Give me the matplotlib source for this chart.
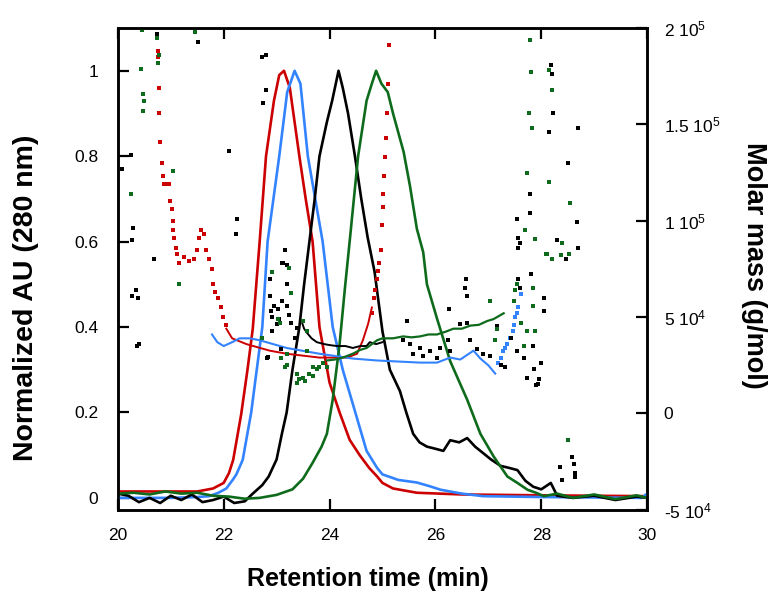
import matplotlib
matplotlib.use("Agg")
import matplotlib.pyplot as plt

plt.rcParams.update({
    "font.family": ["Liberation Sans", "DejaVu Sans"],
    "mathtext.fontset": "custom",
    "mathtext.rm": "Liberation Sans",
    "mathtext.default": "regular",
})

RED = "#cc0000"
BLUE = "#3383ff"
BLACK = "#000000"
GREEN = "#0f6b1c"

# ── UV traces (normalized AU) ──
red_x = [20, 20.5, 21, 21.5, 21.8, 22.0, 22.1, 22.18, 22.33, 22.45, 22.55, 22.68, 22.8,
         22.95, 23.05, 23.14, 23.25, 23.43, 23.55, 23.68, 23.81, 24.0, 24.19, 24.38,
         24.57, 24.75, 24.9, 25.0, 25.2, 25.65, 26.5, 28, 30]
red_y = [0.015, 0.015, 0.015, 0.015, 0.022, 0.035, 0.058, 0.089, 0.195, 0.30, 0.396, 0.60,
         0.80, 0.93, 0.99, 1.0, 0.96, 0.80, 0.70, 0.60, 0.40, 0.27, 0.20, 0.136,
         0.10, 0.07, 0.05, 0.035, 0.022, 0.012, 0.008, 0.006, 0.004]

blue_x = [20, 20.5, 21, 21.5, 21.73, 21.9, 22.05, 22.17, 22.24, 22.36, 22.52, 22.73, 22.83,
          23.05, 23.2, 23.34, 23.45, 23.59, 23.73, 23.87, 24.06, 24.25, 24.44, 24.7,
          24.9, 25.0, 25.3, 25.65, 25.9, 26.1, 26.5, 26.9, 28, 29.9, 30]
blue_y = [0.0, 0.0, 0.0, 0.002, 0.004, 0.012, 0.022, 0.042, 0.055, 0.089, 0.20, 0.40, 0.60,
          0.80, 0.95, 1.0, 0.97, 0.80, 0.70, 0.60, 0.40, 0.30, 0.22, 0.11,
          0.07, 0.055, 0.042, 0.036, 0.027, 0.019, 0.01, 0.004, 0.002, 0.0, 0.01]

black_x = [20, 20.2, 20.4, 20.6, 20.8, 21.0, 21.2, 21.4, 21.6, 21.8, 22.0, 22.2, 22.4, 22.55,
           22.73, 22.85, 23.0, 23.1, 23.19, 23.3, 23.43, 23.52, 23.62, 23.72, 23.81, 23.95,
           24.05, 24.17, 24.25, 24.35, 24.48, 24.6, 24.72, 24.85, 25.0, 25.14, 25.33, 25.45,
           25.58, 25.7, 25.84, 26.0, 26.15, 26.28, 26.45, 26.6, 26.75, 26.9, 27.05, 27.23,
           27.4, 27.55, 27.7, 27.85, 28.0, 28.18, 28.3, 28.6, 29.0, 29.4, 29.8, 30]
black_y = [0.01, 0.005, -0.01, 0.0, -0.012, 0.005, -0.005, 0.008, -0.01, -0.005, 0.003,
           -0.012, -0.008, 0.01, 0.03, 0.05, 0.09, 0.15, 0.2, 0.3, 0.4, 0.5, 0.6, 0.7, 0.8,
           0.88, 0.93, 1.0, 0.96, 0.9, 0.8, 0.7, 0.61, 0.53, 0.39, 0.30, 0.25, 0.2,
           0.15, 0.13, 0.12, 0.115, 0.11, 0.135, 0.13, 0.14, 0.12, 0.105, 0.09, 0.075,
           0.07, 0.065, 0.04, 0.026, 0.02, 0.035, 0.005, 0.0, 0.005, -0.005, 0.003, 0.0]

green_x = [20, 20.3, 20.6, 20.9, 21.2, 21.5, 21.8, 22.1, 22.4, 22.68, 23.0, 23.3, 23.5,
           23.68, 23.85, 23.95, 24.06, 24.19, 24.29, 24.38, 24.54, 24.7, 24.8, 24.88,
           24.98, 25.1, 25.2, 25.4, 25.52, 25.65, 25.77, 25.84, 26.03, 26.28, 26.6, 26.85,
           27.1, 27.36, 27.55, 27.74, 27.9, 28.05, 28.3, 28.6, 29.0, 29.4, 29.8, 30]
green_y = [0.01, 0.012, 0.008, 0.015, 0.01, 0.012, 0.005, 0.003, -0.002, 0.0, 0.007, 0.02,
           0.045, 0.082, 0.12, 0.15, 0.23, 0.36, 0.49, 0.6, 0.8, 0.93, 0.97, 1.0,
           0.97, 0.95, 0.90, 0.81, 0.73, 0.63, 0.575, 0.50, 0.42, 0.32, 0.23, 0.15,
           0.097, 0.05, 0.035, 0.019, 0.012, 0.004, 0.01, 0.0, 0.008, -0.003, 0.006, 0.0]

# ── molar mass (g/mol) ──
red_mm_dots_x = [20.76, 20.76, 20.78, 20.78, 20.80, 20.83, 20.85, 20.87, 20.91, 20.94, 20.97,
                 20.99, 21.02, 21.04, 21.04, 21.06, 21.10, 21.12, 21.16, 21.25, 21.35, 21.44,
                 21.50, 21.54, 21.57, 21.63, 21.67, 21.73, 21.78, 21.80, 21.84, 21.90, 21.95,
                 21.99, 22.05, 24.80, 24.84, 24.86, 24.90, 24.92, 24.93, 24.97, 24.99, 25.01,
                 25.01, 25.03, 25.05, 25.07, 25.09, 25.10, 25.12]
red_mm_dots_y = [185e3, 188e3, 169e3, 156e3, 141e3, 130e3, 123e3, 119e3, 119e3, 119e3, 119e3,
                 110e3, 106e3, 100e3, 95e3, 91e3, 86e3, 83e3, 78e3, 81e3, 79e3, 80e3,
                 85e3, 91e3, 95e3, 93e3, 85e3, 80e3, 75e3, 67e3, 63e3, 60e3, 55e3,
                 50e3, 46e3, 52e3, 60e3, 64e3, 70e3, 74e3, 78e3, 85e3, 98e3, 107e3,
                 114e3, 123e3, 133e3, 143e3, 156e3, 171e3, 191e3]
red_mm_x = [22.05, 22.16, 22.43, 22.87, 23.19, 23.81, 24.33, 24.52, 24.63, 24.73, 24.80]
red_mm_y = [44e3, 39e3, 36e3, 32.6e3, 31e3, 29e3, 29e3, 31e3, 38e3, 46.6e3, 55e3]

blue_mm_x = [21.78, 21.88, 22.0, 22.16, 22.3, 22.49, 22.68, 23.19, 23.81, 24.44, 24.9, 25.71,
             26.03, 26.28, 26.47, 26.72, 26.85, 27.0, 27.13]
blue_mm_y = [41e3, 37e3, 35e3, 37e3, 39e3, 39e3, 38e3, 34e3, 31e3, 28.5e3, 27.5e3, 26.4e3,
             26.4e3, 29e3, 28e3, 32.6e3, 28.5e3, 25e3, 20.7e3]
blue_mm_dots_x = [27.19, 27.23, 27.27, 27.32, 27.36, 27.41, 27.46, 27.49, 27.51, 27.54, 27.57,
                  27.61]
blue_mm_dots_y = [26e3, 29e3, 32.6e3, 34e3, 36e3, 39e3, 43e3, 46e3, 50e3, 52e3, 55e3, 62e3]

black_mm_x = [23.47, 23.52, 23.57, 23.66, 23.76, 23.9, 24.0, 24.14, 24.3, 24.44, 24.58,
              24.7, 24.76, 24.88, 25.0]
black_mm_y = [48e3, 44e3, 42e3, 39e3, 37e3, 36e3, 35.5e3, 35e3, 35e3, 34e3, 35e3,
              35e3, 37e3, 36e3, 37e3]
black_mm_dots_x = [20.74, 21.52, 20.25, 20.08, 22.1, 20.28, 20.27, 20.68, 20.34, 20.27, 20.38,
                   20.36, 20.40, 22.73, 22.8, 22.8, 22.75, 22.26, 22.24, 23.15, 23.11, 23.19,
                   22.87, 23.19, 22.87, 22.96, 23.02, 23.11, 23.2, 22.9, 22.92, 23.04, 23.24,
                   23.28, 22.92, 23.0, 23.38, 23.09, 22.83, 23.34, 22.81, 23.13, 25.46, 25.39,
                   25.52, 25.58, 25.71, 25.77, 25.9, 26.03, 26.09, 26.24, 26.28, 26.47, 26.6,
                   26.57, 26.55, 26.6, 26.26, 26.66, 26.79, 26.9, 27.04, 27.17, 27.23, 27.32,
                   27.42, 27.57, 27.8, 27.59, 27.55, 27.67, 27.74, 27.93, 27.95, 28.0, 28.05,
                   28.05, 27.84, 27.86, 27.57, 28.18, 28.2, 28.22, 28.14, 28.69, 28.5, 27.78,
                   27.78, 27.55, 28.67, 27.57, 27.59, 28.29, 28.69, 28.46, 27.91, 28.58, 28.62,
                   28.35, 28.63, 28.63, 28.39]
black_mm_dots_y = [197e3, 193e3, 134e3, 127e3, 136e3, 96e3, 90e3, 80e3, 64e3, 61e3, 60e3,
                   35e3, 36e3, 185e3, 186e3, 168e3, 161e3, 101e3, 93e3, 85e3, 78e3, 77e3,
                   70e3, 67e3, 61e3, 56e3, 54e3, 58.5e3, 56e3, 53e3, 50e3, 49e3, 51e3,
                   47e3, 43e3, 46.6e3, 44.5e3, 33.7e3, 29.5e3, 39e3, 29e3, 78e3, 48e3, 38e3,
                   36e3, 31e3, 34e3, 30e3, 32.6e3, 29e3, 34e3, 38e3, 32.6e3, 46.6e3, 47e3,
                   70e3, 65e3, 61e3, 54e3, 38e3, 33.7e3, 31e3, 30e3, 45.6e3, 25e3, 24e3,
                   39e3, 70e3, 72.5e3, 65e3, 32.6e3, 29e3, 18.6e3, 15.5e3, 18e3, 26e3, 53e3,
                   60e3, 35e3, 23e3, 86e3, 181e3, 176e3, 156e3, 146e3, 148e3, 130e3, 114e3,
                   104e3, 101e3, 99.5e3, 91e3, 88.6e3, 90e3, 86e3, 80e3, 15e3, -22.8e3, -26e3,
                   -28e3, -31e3, -33e3, -34.7e3]

green_mm_x = [23.95, 24.1, 24.25, 24.44, 24.58, 24.7, 24.9, 25.0, 25.2, 25.39, 25.55, 25.71,
              25.87, 26.03, 26.2, 26.34, 26.5, 26.66, 26.82, 26.98, 27.1, 27.29]
green_mm_y = [27.5e3, 28e3, 29e3, 31e3, 33e3, 34e3, 38e3, 39e3, 39e3, 40e3, 39.5e3, 40e3,
              41e3, 41e3, 42.5e3, 44e3, 44e3, 45.6e3, 46e3, 48e3, 49e3, 52e3]
green_mm_dots_x = [20.46, 20.74, 21.46, 20.78, 20.76, 20.44, 20.48, 20.49, 20.48, 21.05, 20.25,
                   21.16, 22.92, 23.24, 23.28, 23.02, 23.06, 22.73, 23.49, 23.57, 23.09, 23.15,
                   23.2, 23.38, 23.43, 23.49, 23.62, 23.68, 23.76, 23.81, 23.87, 23.57, 23.68,
                   23.38, 23.53, 23.19, 23.95, 27.04, 27.51, 27.48, 27.55, 27.84, 27.84, 27.61,
                   27.67, 27.89, 27.74, 28.09, 27.17, 27.13, 27.78, 27.8, 28.14, 28.2, 27.76,
                   27.82, 27.74, 28.14, 28.54, 27.7, 27.89, 28.39, 28.1, 28.37, 28.52, 28.2,
                   28.5]
green_mm_dots_y = [199e3, 195e3, 198e3, 186e3, 182e3, 179e3, 166e3, 162e3, 157e3, 126e3, 114e3,
                   67e3, 73.6e3, 75.6e3, 62.7e3, 49e3, 47e3, 39e3, 48e3, 43e3, 29e3, 24e3,
                   25e3, 20.7e3, 18e3, 18.6e3, 20.7e3, 19.7e3, 23e3, 24e3, 26e3, 32.6e3, 24e3,
                   16e3, 17e3, 31e3, 24e3, 58.5e3, 64e3, 58.5e3, 67e3, 65e3, 56e3, 47e3,
                   35e3, 43e3, 43e3, 83e3, 44e3, 38e3, 194e3, 177e3, 178e3, 168e3, 156e3,
                   148e3, 125e3, 120e3, 109e3, 95e3, 90.6e3, 88.6e3, 83e3, 82e3, 83e3, 80e3,
                   -14e3]

x_ticks = [20, 22, 24, 26, 28, 30]
left_ticks = [0, 0.2, 0.4, 0.6, 0.8, 1]
left_labels = ["0", "0.2", "0.4", "0.6", "0.8", "1"]
right_ticks = [-5e4, 0, 5e4, 1e5, 1.5e5, 2e5]
right_labels = ["-5 10$^4$", "0", "5 10$^4$", "1 10$^5$", "1.5 10$^5$", "2 10$^5$"]

fig = plt.figure(figsize=(7.75, 5.97), dpi=100)
ax = fig.add_axes([0.152, 0.146, 0.683, 0.807])
ax2 = ax.twinx()

# UV traces
lw = 1.9
ax.plot(red_x, red_y, color=RED, lw=lw, zorder=3)
ax.plot(blue_x, blue_y, color=BLUE, lw=lw, zorder=3)
ax.plot(black_x, black_y, color=BLACK, lw=lw, zorder=3)
ax.plot(green_x, green_y, color=GREEN, lw=lw, zorder=3)

# molar mass
ms = 2.4
ax2.plot(red_mm_x, red_mm_y, color=RED, lw=1.4)
ax2.plot(red_mm_dots_x, red_mm_dots_y, "s", color=RED, ms=ms, mew=0)
ax2.plot(blue_mm_x, blue_mm_y, color=BLUE, lw=1.5)
ax2.plot(blue_mm_dots_x, blue_mm_dots_y, "s", color=BLUE, ms=ms, mew=0)
ax2.plot(black_mm_x, black_mm_y, color=BLACK, lw=1.4)
ax2.plot(black_mm_dots_x, black_mm_dots_y, "s", color=BLACK, ms=ms, mew=0)
ax2.plot(green_mm_x, green_mm_y, color=GREEN, lw=1.6)
ax2.plot(green_mm_dots_x, green_mm_dots_y, "s", color=GREEN, ms=ms, mew=0)

ax.set_xlim(20, 30)
ax.set_ylim(-0.028, 1.10)
ax2.set_ylim(-5e4, 2e5)

ax.set_xticks(x_ticks)
ax.set_xticklabels([str(t) for t in x_ticks])
ax.set_yticks(left_ticks)
ax.set_yticklabels(left_labels)
ax2.set_yticks(right_ticks)
ax2.set_yticklabels(right_labels)

ax.tick_params(axis="x", direction="in", top=True, length=8, width=1.6,
               labelsize=12.5, pad=13)
ax.tick_params(axis="y", direction="in", length=8, width=1.6, labelsize=12.5, pad=14)
ax2.tick_params(axis="y", direction="in", length=8, width=1.6, labelsize=12.5, pad=12)

for a in (ax, ax2):
    for s in a.spines.values():
        s.set_linewidth(1.8)

ax.set_xlabel("Retention time (min)", fontsize=18, fontweight="bold")
ax.xaxis.set_label_coords(0.473, -0.118)
ax.set_ylabel("Normalized AU (280 nm)", fontsize=20.5, fontweight="bold", va="center")
ax.yaxis.set_label_coords(-0.174, 0.44)
ax2.set_ylabel("Molar mass (g/mol)", fontsize=19.5, fontweight="bold", rotation=270,
               va="center")
ax2.yaxis.set_label_coords(1.202, 0.508)

fig.savefig("out.png", dpi=100, facecolor="white")
